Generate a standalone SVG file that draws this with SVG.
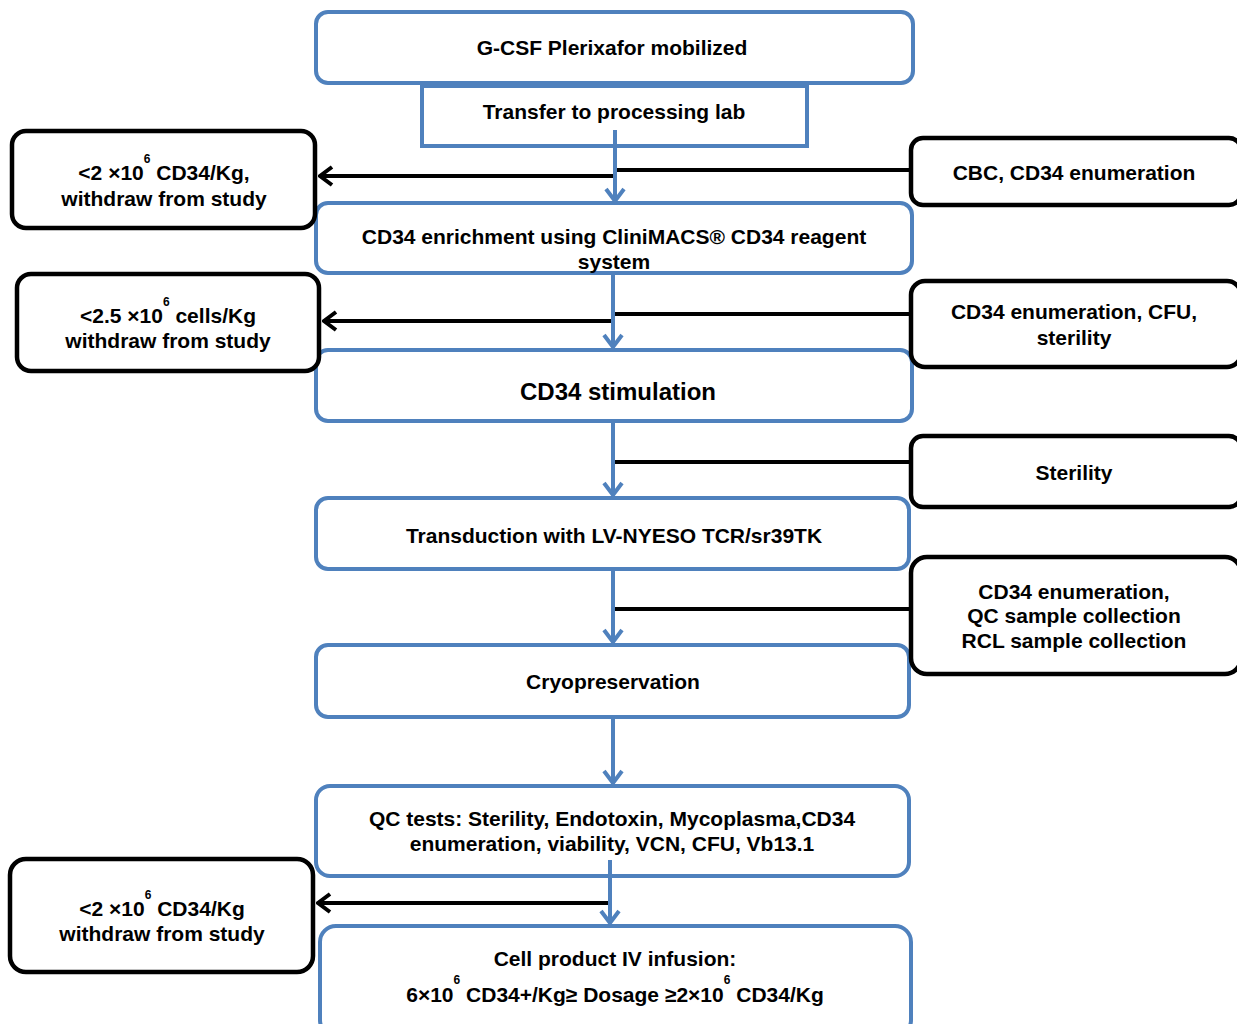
<svg xmlns="http://www.w3.org/2000/svg" width="1237" height="1024" viewBox="0 0 1237 1024">
<defs>
<style>
.b{fill:#fff;stroke:#4F81BD;stroke-width:4}
.k{fill:#fff;stroke:#000;stroke-width:4.5}
text{font-family:"Liberation Sans",Arial,sans-serif;font-weight:bold;font-size:21px;fill:#000;text-anchor:middle}
.sup{font-size:12px}
.bl{stroke:#4F81BD;stroke-width:4;fill:none}
.kl{stroke:#000;stroke-width:4;fill:none}
</style>
<marker id="ab" viewBox="-2 -11 16 22" refX="12" refY="0" markerWidth="16" markerHeight="22" markerUnits="userSpaceOnUse" orient="auto">
<path d="M0,-9 L12,0 L0,9" fill="none" stroke="#4F81BD" stroke-width="4"/>
</marker>
<marker id="ak" viewBox="-2 -11 16 22" refX="12" refY="0" markerWidth="16" markerHeight="22" markerUnits="userSpaceOnUse" orient="auto">
<path d="M0,-9 L12,0 L0,9" fill="none" stroke="#000" stroke-width="4"/>
</marker>
</defs>
<rect width="1237" height="1024" fill="#fff"/>

<g id="n-gcsf"><rect class="b" x="316" y="12" width="597" height="71" rx="12"/><text x="612" y="55">G-CSF Plerixafor mobilized</text></g>
<g id="n-transfer"><rect class="b" x="422" y="86" width="385" height="60"/><text x="614" y="119">Transfer to processing lab</text></g>
<g id="n-enrich"><rect class="b" x="316" y="203" width="596" height="70" rx="12"/><text x="614" y="244">CD34 enrichment using CliniMACS® CD34 reagent</text><text x="614" y="269">system</text></g>
<g id="n-stim"><rect class="b" x="316" y="350" width="596" height="71" rx="12"/><text x="618" y="400" style="font-size:24px">CD34 stimulation</text></g>
<g id="n-trans"><rect class="b" x="316" y="498" width="593" height="71" rx="12"/><text x="614" y="543">Transduction with LV-NYESO TCR/sr39TK</text></g>
<g id="n-cryo"><rect class="b" x="316" y="645" width="593" height="72" rx="12"/><text x="613" y="689">Cryopreservation</text></g>
<g id="n-qc"><rect class="b" x="316" y="786" width="593" height="90" rx="14"/><text x="612" y="826">QC tests: Sterility, Endotoxin, Mycoplasma,CD34</text><text x="612" y="851">enumeration, viability, VCN, CFU, Vb13.1</text></g>
<g id="n-infusion"><rect class="b" x="320" y="926" width="591" height="110" rx="16"/><text x="615" y="966">Cell product IV infusion:</text><text x="615" y="1002">6×10<tspan class="sup" dy="-18">6</tspan><tspan dy="18"> CD34+/Kg≥ Dosage ≥2×10</tspan><tspan class="sup" dy="-18">6</tspan><tspan dy="18"> CD34/Kg</tspan></text></g>

<g id="n-l1"><rect class="k" x="12" y="131" width="303" height="97" rx="14"/><text x="164" y="180">&lt;2 ×10<tspan class="sup" dy="-17">6</tspan><tspan dy="17"> CD34/Kg,</tspan></text><text x="164" y="206">withdraw from study</text></g>
<g id="n-l2"><rect class="k" x="17" y="274" width="302" height="97" rx="14"/><text x="168" y="323">&lt;2.5 ×10<tspan class="sup" dy="-17">6</tspan><tspan dy="17"> cells/Kg</tspan></text><text x="168" y="348">withdraw from study</text></g>
<g id="n-l3"><rect class="k" x="10" y="859" width="303" height="113" rx="16"/><text x="162" y="916">&lt;2 ×10<tspan class="sup" dy="-17">6</tspan><tspan dy="17"> CD34/Kg</tspan></text><text x="162" y="941">withdraw from study</text></g>
<g id="n-r1"><rect class="k" x="911" y="138" width="330" height="67" rx="12"/><text x="1074" y="180">CBC, CD34 enumeration</text></g>
<g id="n-r2"><rect class="k" x="911" y="281" width="330" height="86" rx="14"/><text x="1074" y="319">CD34 enumeration, CFU,</text><text x="1074" y="345">sterility</text></g>
<g id="n-r3"><rect class="k" x="911" y="436" width="330" height="71" rx="12"/><text x="1074" y="480">Sterility</text></g>
<g id="n-r4"><rect class="k" x="911" y="557" width="330" height="117" rx="16"/><text x="1074" y="599">CD34 enumeration,</text><text x="1074" y="623">QC sample collection</text><text x="1074" y="648">RCL sample collection</text></g>

<g id="connectors">
<line class="kl" x1="911" y1="170" x2="614" y2="170"/>
<line class="kl" x1="614" y1="176" x2="320" y2="176" marker-end="url(#ak)"/>
<line class="bl" x1="615" y1="130" x2="615" y2="201" marker-end="url(#ab)"/>

<line class="kl" x1="911" y1="314" x2="613" y2="314"/>
<line class="kl" x1="613" y1="321" x2="324" y2="321" marker-end="url(#ak)"/>
<line class="bl" x1="613" y1="273" x2="613" y2="347" marker-end="url(#ab)"/>

<line class="kl" x1="911" y1="462" x2="614" y2="462"/>
<line class="bl" x1="613" y1="421" x2="613" y2="495" marker-end="url(#ab)"/>

<line class="kl" x1="911" y1="609" x2="614" y2="609"/>
<line class="bl" x1="613" y1="569" x2="613" y2="642" marker-end="url(#ab)"/>

<line class="bl" x1="613" y1="717" x2="613" y2="783" marker-end="url(#ab)"/>

<line class="kl" x1="610" y1="903" x2="318" y2="903" marker-end="url(#ak)"/>
<line class="bl" x1="610" y1="860" x2="610" y2="923" marker-end="url(#ab)"/>
</g>
</svg>
